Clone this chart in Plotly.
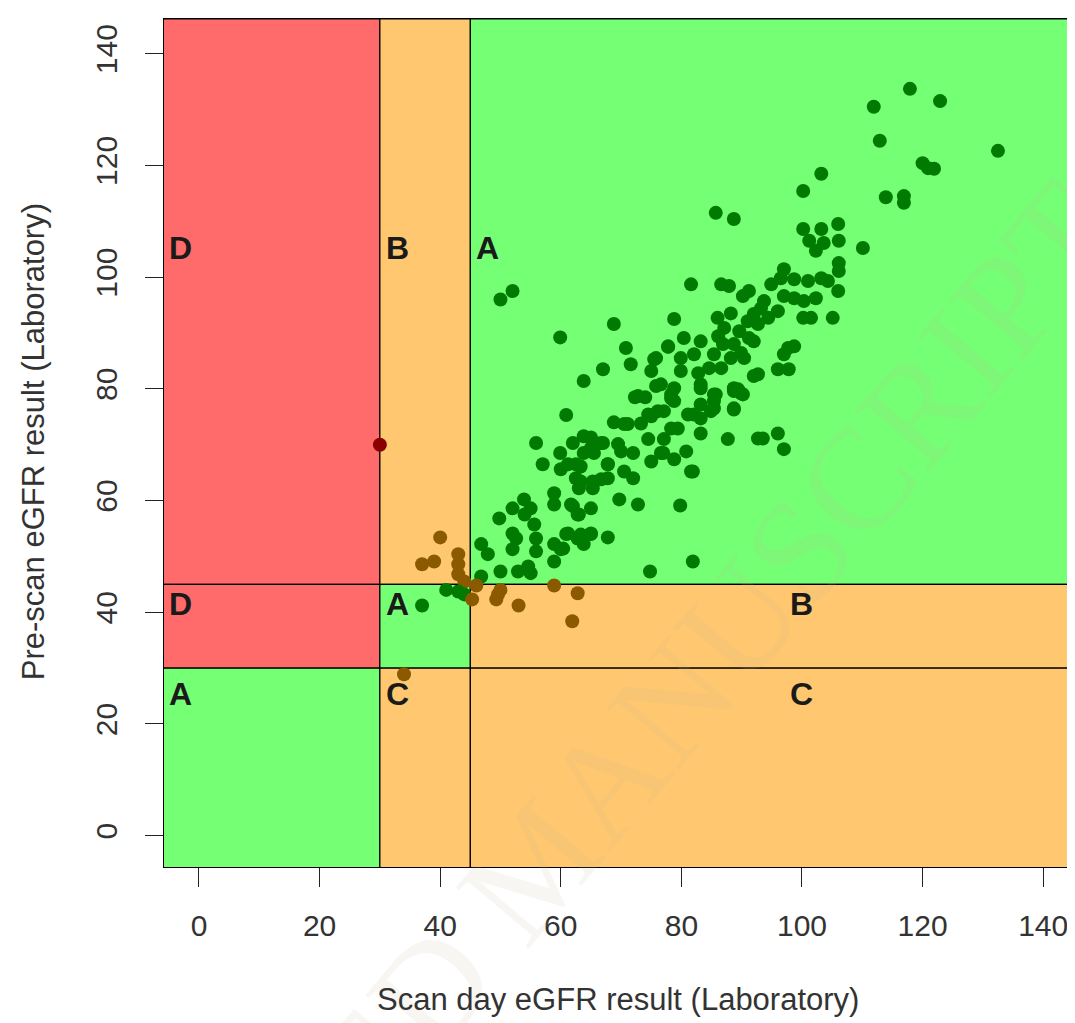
import plotly.graph_objects as go

# ---- data: (scan day eGFR, pre-scan eGFR) ----
scan_day = [
    50, 52, 68.8, 59.9, 78.8, 70.8, 71.6, 67, 63.8, 77.8, 75.5, 75, 75.8, 72.3, 74, 78.3,
    60.9, 68.8, 71.1, 74.5, 76.1, 78.3, 55.9, 62, 65, 67, 63.8, 65.5, 69.5, 70, 72, 74.5,
    75, 77, 78.8, 59.9, 57, 60, 62.5, 62.5, 67.8, 66.7, 70.5, 72, 63, 65.3, 58.9, 53.9,
    52, 55, 58.9, 61.7, 65, 69.7, 72.8, 49.8, 54, 55.6, 55.9, 55.9, 52, 52.6, 46.8, 47.9,
    52, 58.9, 60, 58.9, 50, 52.9, 54.6, 55, 46.8, 67.8, 60.9, 62.8, 63.8, 65, 62, 62.8,
    81.9, 74.8, 79.8, 87.7, 83.2, 81.9, 80.8, 76.6, 92.7, 72.8, 78.8, 83.2, 85.4, 85.4, 83.2, 82.1,
    88.7, 88.7, 90.2, 79.4, 77.1, 70.5, 73.3, 75, 63.8, 65, 66.7, 61.2, 63.3, 63.3, 65.3, 67.8,
    67.8, 63, 61.2, 63.3, 65, 60.4,
    103.2, 100.2, 85.7, 88.7, 100.2, 103.2, 106, 101.2, 102.3, 103.6, 106.1, 110.1, 106.1, 106.1,
    97, 106, 105.1, 81.6, 86.6, 87.9, 90.2, 91.2, 94.9, 96.5, 98.7, 101, 103.2, 104.3, 97, 98.7,
    100.3, 102.3, 93.7, 93.2, 94.4, 96, 100.2, 101.5, 86, 88.2, 91, 92, 87.1, 89.6, 92.7, 80.4,
    83.2, 86.1, 86.9, 88.7, 91.2, 92, 97.7, 98.7, 97, 77.8, 75.8, 79.9, 82.1, 85.4, 84.6, 88.2,
    89.9, 90.4, 96, 97.8, 92.7, 92, 79.9, 82.8, 86.6, 83.2, 85.7, 88.7, 89.9, 76.6, 78.8, 78.3,
    77.1, 85.4, 84.9, 88.7, 81.1, 83.2,
    117.9, 122.9, 111.9, 112.9, 132.5, 120, 120.9, 121.9, 113.9, 116.9, 116.9,
    89.4, 93.5, 96, 97, 81.6,
    37, 39, 40, 43, 43, 43, 44,
    37, 41, 43, 44,
    46, 45.3, 49.6, 50, 49.3, 53, 62.8, 61.9, 58.9,
    34, 30,
]
pre_scan = [
    96, 97.5, 91.6, 89.2, 92.5, 87.3, 84.4, 83.5, 81.4, 87.5, 85.3, 83.2, 80.5, 78.5, 78.5, 79,
    75.3, 74, 73.7, 75.4, 76, 72.9, 70.3, 70.3, 71.3, 70.3, 68.5, 68.5, 70.1, 68.8, 68.5, 71,
    67, 68.5, 67.4, 68.5, 66.5, 65.6, 66.5, 64, 66.5, 63.8, 65.2, 64, 62.2, 62.2, 61.3, 60.2,
    58.6, 58.6, 59.3, 59.3, 58.6, 60.2, 59.3, 56.8, 57.5, 55.7, 53.2, 50.9, 54.1, 53.2, 52.2, 50.4,
    51.3, 52.2, 51.3, 49.1, 47.3, 47.3, 48.2, 47, 46.4, 53.4, 54, 53.2, 52.2, 54, 59, 57.5,
    49.1, 47.3, 59.1, 71, 72, 65.2, 68.8, 68.5, 71.1, 78.7, 77.8, 80.8, 79, 76.5, 77.2, 75.4,
    76.3, 79.6, 79, 72.9, 71, 73.7, 73.8, 75.1, 71.5, 69.4, 70.3, 66.5, 66.1, 63.4, 63.4, 64,
    66.5, 57.5, 54.1, 53.9, 54.1, 51.4,
    118.5, 115.4, 111.5, 110.4, 108.6, 108.6, 109.5, 106.5, 104.7, 106.1, 106.5, 105.2, 102.5, 101.1,
    101.4, 97.5, 92.7, 98.7, 98.7, 98.4, 96.6, 97.5, 98.7, 99.8, 99.6, 99.3, 99.8, 99.3, 96.6, 96.2,
    95.7, 96.2, 95.7, 94.4, 92.7, 93.9, 92.7, 92.7, 92.7, 93.5, 92.1, 93.4, 90.9, 90.3, 91.6, 89.1,
    88.5, 89.4, 88, 88, 89.1, 88.5, 87.3, 87.6, 86.2, 87.6, 85.5, 85.5, 86.2, 86.2, 83.7, 85.5,
    86.4, 85.5, 83.5, 83.5, 82.6, 82.3, 83.2, 82.8, 83.7, 80.1, 79, 80.1, 79.2, 80.8, 80.1, 78.3,
    76, 77.8, 76, 76.5, 75.4, 74.7,
    133.7, 131.5, 130.5, 124.4, 122.6, 120.4, 119.5, 119.4, 114.3, 114.5, 113.3,
    79.9, 71.1, 72, 69.2, 65.2,
    48.6, 49.1, 53.4, 50.4, 48.6, 46.8, 45.5,
    41.2, 44, 43.7, 43.2,
    44.8, 42.3, 43.2, 44, 42.3, 41.2, 43.4, 38.4, 44.8,
    28.9, 70,
]

x_ticks = [0, 20, 40, 60, 80, 100, 120, 140]
y_ticks = [0, 20, 40, 60, 80, 100, 120, 140]
cut_low = 30
cut_high = 45

zone_labels = ["D", "B", "A", "D", "A", "B", "A", "C", "C"]
zone_label_x = [-3.0, 32.9, 47.8, -3.0, 32.9, 100, -3.0, 32.9, 100]
zone_label_y = [105.2, 105.2, 105.2, 41.5, 41.5, 41.5, 25.3, 25.3, 25.3]

X_RANGE = [-5.8, 146.6]
Y_RANGE = [-5.6, 146.2]

RED_ZONE = "#FF6B6B"
ORANGE_ZONE = "#FFC870"
GREEN_ZONE = "#75FF75"


def zone(x, y):
    if x <= cut_low:
        return "red" if y >= cut_low else "green"
    if x < cut_high:
        return "orange" if (y > cut_high or y < cut_low) else "green"
    return "green" if y > cut_high else "orange"


point_colors = {"red": "#8B0000", "orange": "#8B5A00", "green": "#007A00"}
colors = [point_colors[zone(x, y)] for x, y in zip(scan_day, pre_scan)]

fig = go.Figure()

BIG_L, BIG_R, BIG_B, BIG_T = -20, 200, -20, Y_RANGE[1]
rects = [
    (BIG_L, cut_low, cut_high, BIG_T, RED_ZONE),
    (BIG_L, cut_low, cut_low, cut_high, RED_ZONE),
    (BIG_L, cut_low, BIG_B, cut_low, GREEN_ZONE),
    (cut_low, cut_high, cut_high, BIG_T, ORANGE_ZONE),
    (cut_low, cut_high, cut_low, cut_high, GREEN_ZONE),
    (cut_low, cut_high, BIG_B, cut_low, ORANGE_ZONE),
    (cut_high, BIG_R, cut_high, BIG_T, GREEN_ZONE),
    (cut_high, BIG_R, cut_low, cut_high, ORANGE_ZONE),
    (cut_high, BIG_R, BIG_B, cut_low, ORANGE_ZONE),
]
for x0, x1, y0, y1, c in rects:
    fig.add_shape(type="rect", xref="x", yref="y", x0=x0, x1=x1, y0=y0, y1=y1,
                  fillcolor=c, line=dict(color="black", width=1.2), layer="below")

# faint watermark
fig.add_annotation(text="ACCEPTED MANUSCRIPT", xref="paper", yref="paper",
                   x=0.405, y=0.005, xanchor="center", yanchor="middle",
                   showarrow=False, textangle=-50,
                   font=dict(family="Liberation Serif", size=145,
                             color="rgba(200,185,150,0.12)"))

fig.add_trace(go.Scatter(
    x=scan_day, y=pre_scan, mode="markers",
    marker=dict(size=14, color=colors, line=dict(width=0)),
    hoverinfo="x+y", showlegend=False,
))

for t, lx, ly in zip(zone_labels, zone_label_x, zone_label_y):
    fig.add_annotation(text="<b>" + t + "</b>", x=lx, y=ly, xref="x", yref="y",
                       showarrow=False, font=dict(family="Liberation Sans", size=32, color="#1a1a1a"))

fig.add_annotation(text="Scan day eGFR result (Laboratory)", xref="paper", yref="paper",
                   x=0.494, y=-0.1557, showarrow=False, xanchor="center", yanchor="middle",
                   font=dict(family="Liberation Sans", size=31, color="#333333"))
fig.add_annotation(text="Pre-scan eGFR result (Laboratory)", xref="paper", yref="paper",
                   x=-0.1425, y=0.501, showarrow=False, textangle=-90, xanchor="center", yanchor="middle",
                   font=dict(family="Liberation Sans", size=31, color="#333333"))

fig.update_xaxes(range=X_RANGE, tickvals=x_ticks, ticktext=[str(v) for v in x_ticks],
                 showgrid=False, zeroline=False, showline=True, linecolor="black", linewidth=1.2,
                 mirror=True, ticks="outside", ticklen=19, tickwidth=1.4, tickcolor="#222",
                 ticklabelstandoff=13,
                 tickfont=dict(family="Liberation Sans", size=30, color="#333333"))
fig.update_yaxes(range=Y_RANGE, tickvals=y_ticks, ticktext=[str(v) for v in y_ticks],
                 showgrid=False, zeroline=False, showline=True, linecolor="black", linewidth=1.2,
                 ticks="outside", ticklen=18, tickwidth=1.4, tickcolor="#222", tickangle=-90,
                 ticklabelstandoff=16,
                 tickfont=dict(family="Liberation Sans", size=30, color="#333333"))

fig.update_layout(width=1075, height=1023, margin=dict(l=156, r=0, t=11, b=164),
                  plot_bgcolor="white", paper_bgcolor="white")

fig.write_html("out.html")
